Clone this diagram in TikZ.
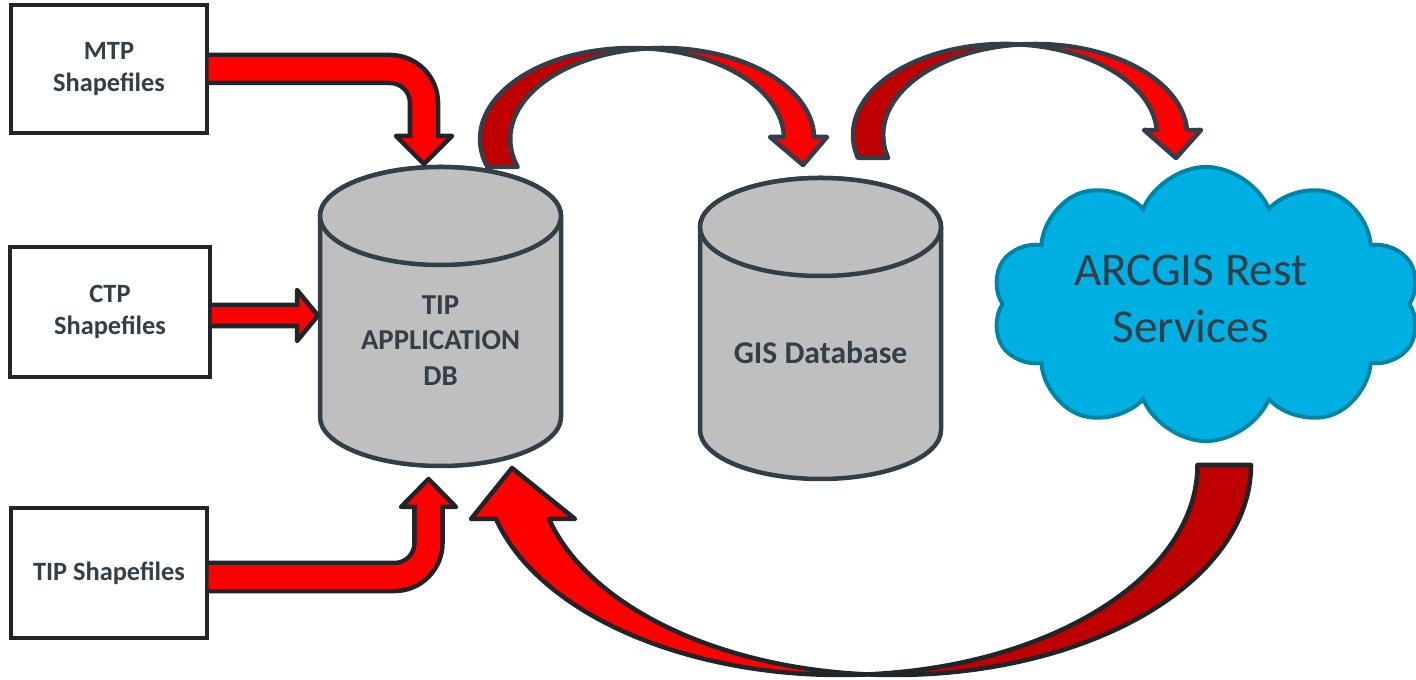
\documentclass[tikz,border=0pt]{standalone}
\usepackage{fontspec}
\setmainfont{Carlito}
\usetikzlibrary{shapes.symbols}

\definecolor{slate}{RGB}{50,62,72}
\definecolor{inkline}{RGB}{32,37,42}
\definecolor{cangrey}{RGB}{191,191,191}
\definecolor{backred}{RGB}{192,0,0}
\definecolor{cloudfill}{RGB}{0,176,226}
\definecolor{cloudline}{RGB}{0,132,166}

\tikzset{
    box/.style={draw=inkline, line width=0.04cm, fill=white, minimum width=1.95cm,
        minimum height=1.27cm, align=center, text=slate,
        font=\fontsize{7.5}{9.1}\selectfont\bfseries},
    can/.style={draw=slate, fill=cangrey, line width=0.045cm},
    dbtext/.style={align=center, text=slate, font=\fontsize{8.2}{10}\selectfont\bfseries},
    pipe/.style={draw=inkline, line width=0.325cm},
    pipefill/.style={draw=red, line width=0.235cm},
    headshape/.style={fill=red, draw=inkline, line width=0.045cm, line join=round},
    backside/.style={fill=backred, draw=slate, line width=0.045cm, line join=round},
    frontside/.style={fill=red, draw=slate, line width=0.045cm, line join=round}
}

\begin{document}
\begin{tikzpicture}[x=0.01cm, y=-0.01cm]
    \useasboundingbox (0,0) rectangle (1416,680);

    \node[box] (mtp) at (109,69) {MTP\\Shapefiles};
    \node[box, minimum width=1.99cm, minimum height=1.30cm] (ctp) at (110,312) {CTP\\Shapefiles};
    \node[box, minimum height=1.30cm] (tipshp) at (109,573) {TIP Shapefiles};

    % the two databases
    \filldraw[can] (320,216) -- (320,417) arc[start angle=180, end angle=0, x radius=120.5, y radius=49]
        -- (561,216) arc[start angle=0, end angle=-180, x radius=120.5, y radius=49] -- cycle;
    \filldraw[can] (440.5,216) ellipse [x radius=120.5, y radius=49];
    \filldraw[can] (700,227) -- (700,430) arc[start angle=180, end angle=0, x radius=120.5, y radius=49]
        -- (941,227) arc[start angle=0, end angle=-180, x radius=120.5, y radius=49] -- cycle;
    \filldraw[can] (820.5,227) ellipse [x radius=120.5, y radius=49];
    \node[dbtext] (appdb) at (440.5,340.5) {TIP\\APPLICATION\\DB};
    \node[dbtext, font=\fontsize{9}{11}\selectfont\bfseries] (gisdb) at (820.5,353) {GIS Database};

    \node[cloud, cloud puffs=10, cloud puff arc=135, aspect=1.56, minimum width=4.28cm, minimum height=2.74cm,
        fill=cloudfill, draw=cloudline, line width=0.04cm] (svccloud) at (1206,304) {};
    \node[align=center, text=slate, font=\fontsize{13.4}{16.2}\selectfont] (arcgis)
        at (1190.5,298.5) {ARCGIS Rest\\Services};

    % shapefiles into the application db
    \coordinate (mtpend) at (424,136);
    \coordinate (ctpend) at (297,315.5);
    \coordinate (tipend) at (428.5,507);
    \draw[pipe, rounded corners=0.34cm] (mtp.east) -| (mtpend);
    \filldraw[headshape] (396,136) -- (424,164) -- (452,136) -- cycle;
    \draw[pipefill, rounded corners=0.34cm] (mtp.east) -| (424,141);
    \draw[pipe, line width=0.255cm] ([yshift=-0.035cm]ctp.east) -- (ctpend);
    \filldraw[headshape] (297,290) -- (318,315.5) -- (297,341) -- cycle;
    \draw[pipefill, line width=0.165cm] ([yshift=-0.035cm]ctp.east) -- (302,315.5);
    \draw[pipe, rounded corners=0.34cm] ([yshift=-0.04cm]tipshp.east) -| (tipend);
    \filldraw[headshape] (401,507) -- (428.5,479) -- (456,507) -- cycle;
    \draw[pipefill, rounded corners=0.34cm] ([yshift=-0.04cm]tipshp.east) -| (428.5,502);

    % application db to gis database
    \filldraw[backside] (487.4,167) arc[start angle=162.1, end angle=275.7, x radius=152, y radius=91]
        arc[start angle=264.3, end angle=162.1, x radius=152, y radius=91] -- cycle;
    \filldraw[frontside] (647.1,48.45) arc[start angle=264.3, end angle=358.7, x radius=152, y radius=91]
        -- (827,137) -- (803,165) -- (770,137) -- (784,136.9)
        arc[start angle=358.7, end angle=275.7, x radius=152, y radius=91] -- cycle;

    % gis database to the rest services
    \filldraw[backside] (857.9,157.9) arc[start angle=165.4, end angle=275.7, x radius=152, y radius=91]
        arc[start angle=264.3, end angle=165.4, x radius=152, y radius=91] -- cycle;
    \filldraw[frontside] (1020.1,44.45) arc[start angle=264.3, end angle=356.9, x radius=152, y radius=91]
        -- (1201,130) -- (1176,158) -- (1144,130) -- (1156.8,130.1)
        arc[start angle=356.9, end angle=275.7, x radius=152, y radius=91] -- cycle;

    % rest services back to the application db
    \filldraw[backside, draw=inkline] (1198,465) -- (1251,465)
        arc[start angle=0, end angle=94.3, x radius=357, y radius=210]
        arc[start angle=85.7, end angle=0, x radius=357, y radius=210] -- cycle;
    \filldraw[frontside, draw=inkline] (867.8,674.4) arc[start angle=85.7, end angle=165.1, x radius=357, y radius=210]
        -- (471,519) -- (512,468) -- (575,519) -- (549,519)
        arc[start angle=165.1, end angle=94.3, x radius=357, y radius=210] -- cycle;
\end{tikzpicture}
\end{document}
